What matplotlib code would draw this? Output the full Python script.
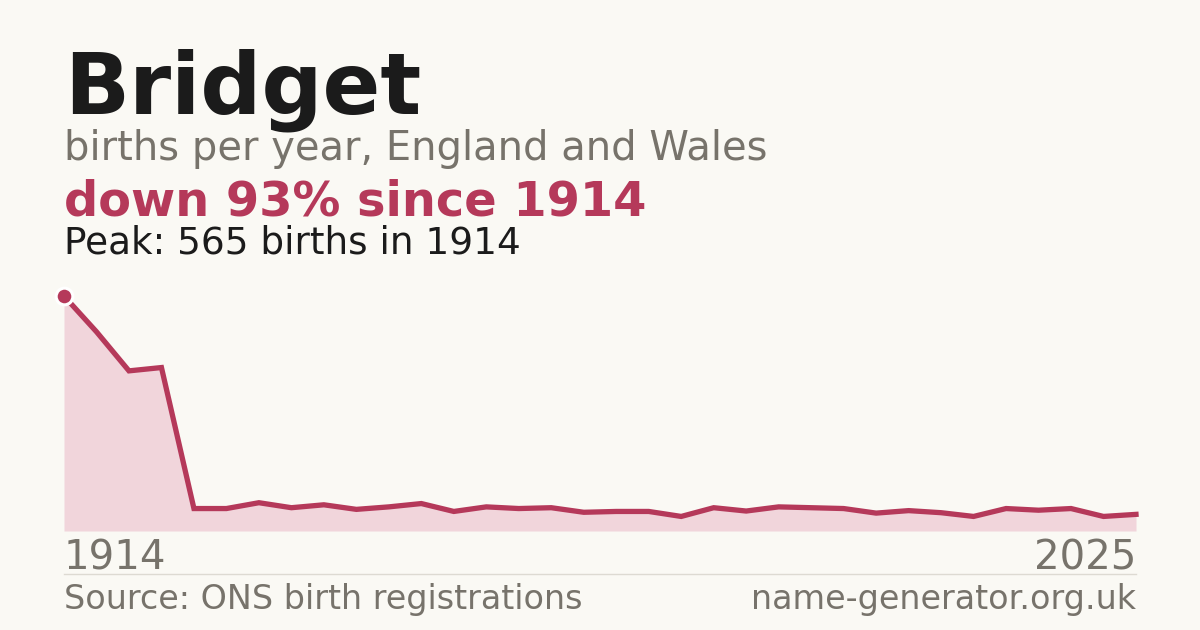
import numpy as np
import matplotlib.pyplot as plt

plt.rcParams["font.family"] = ["DejaVu Sans"]

NAME = "Bridget"
YEARS = [1914, 1924, 1934, 1944] + list(range(1996, 2026))
BIRTHS = [565, 479, 385, 393,
          54, 54, 68, 56, 63, 52, 58, 66, 47, 58,
          54, 56, 45, 47, 47, 35, 56, 48, 58, 56,
          54, 43, 49, 44, 35, 54, 50, 54, 35, 40]

BG = "#faf9f4"
RED = "#b5395a"
FILL = "#f1d5db"
GREY = "#77736b"
DARK = "#1b1b1b"

fig = plt.figure(figsize=(12, 6.3), dpi=100, facecolor=BG)

def fy(px):
    return 1 - px / 630

x0 = 64 / 1200
x1 = 1136 / 1200

fig.text(x0, fy(113), NAME, fontsize=61.5, fontweight="bold", color=DARK, va="baseline")
fig.text(x0, fy(160), "births per year, England and Wales", fontsize=28.8, color=GREY, va="baseline")
fig.text(x0, fy(215), "down 93% since 1914", fontsize=34.5, fontweight="bold", color=RED, va="baseline")
fig.text(x0, fy(254), "Peak: 565 births in 1914", fontsize=26.9, color=DARK, va="baseline")

ax = fig.add_axes([x0, fy(531), x1 - x0, (531 - 296) / 630])
ax.set_facecolor("none")
idx = np.arange(len(BIRTHS))
ax.fill_between(idx, BIRTHS, 0, color=FILL, linewidth=0)
ax.plot(idx, BIRTHS, color=RED, linewidth=3.8, solid_joinstyle="miter", clip_on=False)
peak = int(np.argmax(BIRTHS))
ax.plot(idx[peak], BIRTHS[peak], "o", markersize=12, color=RED,
        markeredgecolor="#ffffff", markeredgewidth=2.2, clip_on=False, zorder=5)
ax.set_xlim(0, len(BIRTHS) - 1)
ax.set_ylim(0, max(BIRTHS))
ax.axis("off")

fig.text(x0, fy(570), str(YEARS[0]), fontsize=29, color=GREY, va="baseline")
fig.text(x1, fy(570), str(YEARS[-1]), fontsize=29, color=GREY, va="baseline", ha="right")

fig.add_artist(plt.Line2D([x0, x1], [fy(574), fy(574)], color="#dddad2", linewidth=1))

fig.text(x0, fy(609), "Source: ONS birth registrations", fontsize=24, color=GREY, va="baseline")
fig.text(x1, fy(609), "name-generator.org.uk", fontsize=24, color=GREY, va="baseline", ha="right")

fig.savefig("out.png", dpi=100, facecolor=BG)
